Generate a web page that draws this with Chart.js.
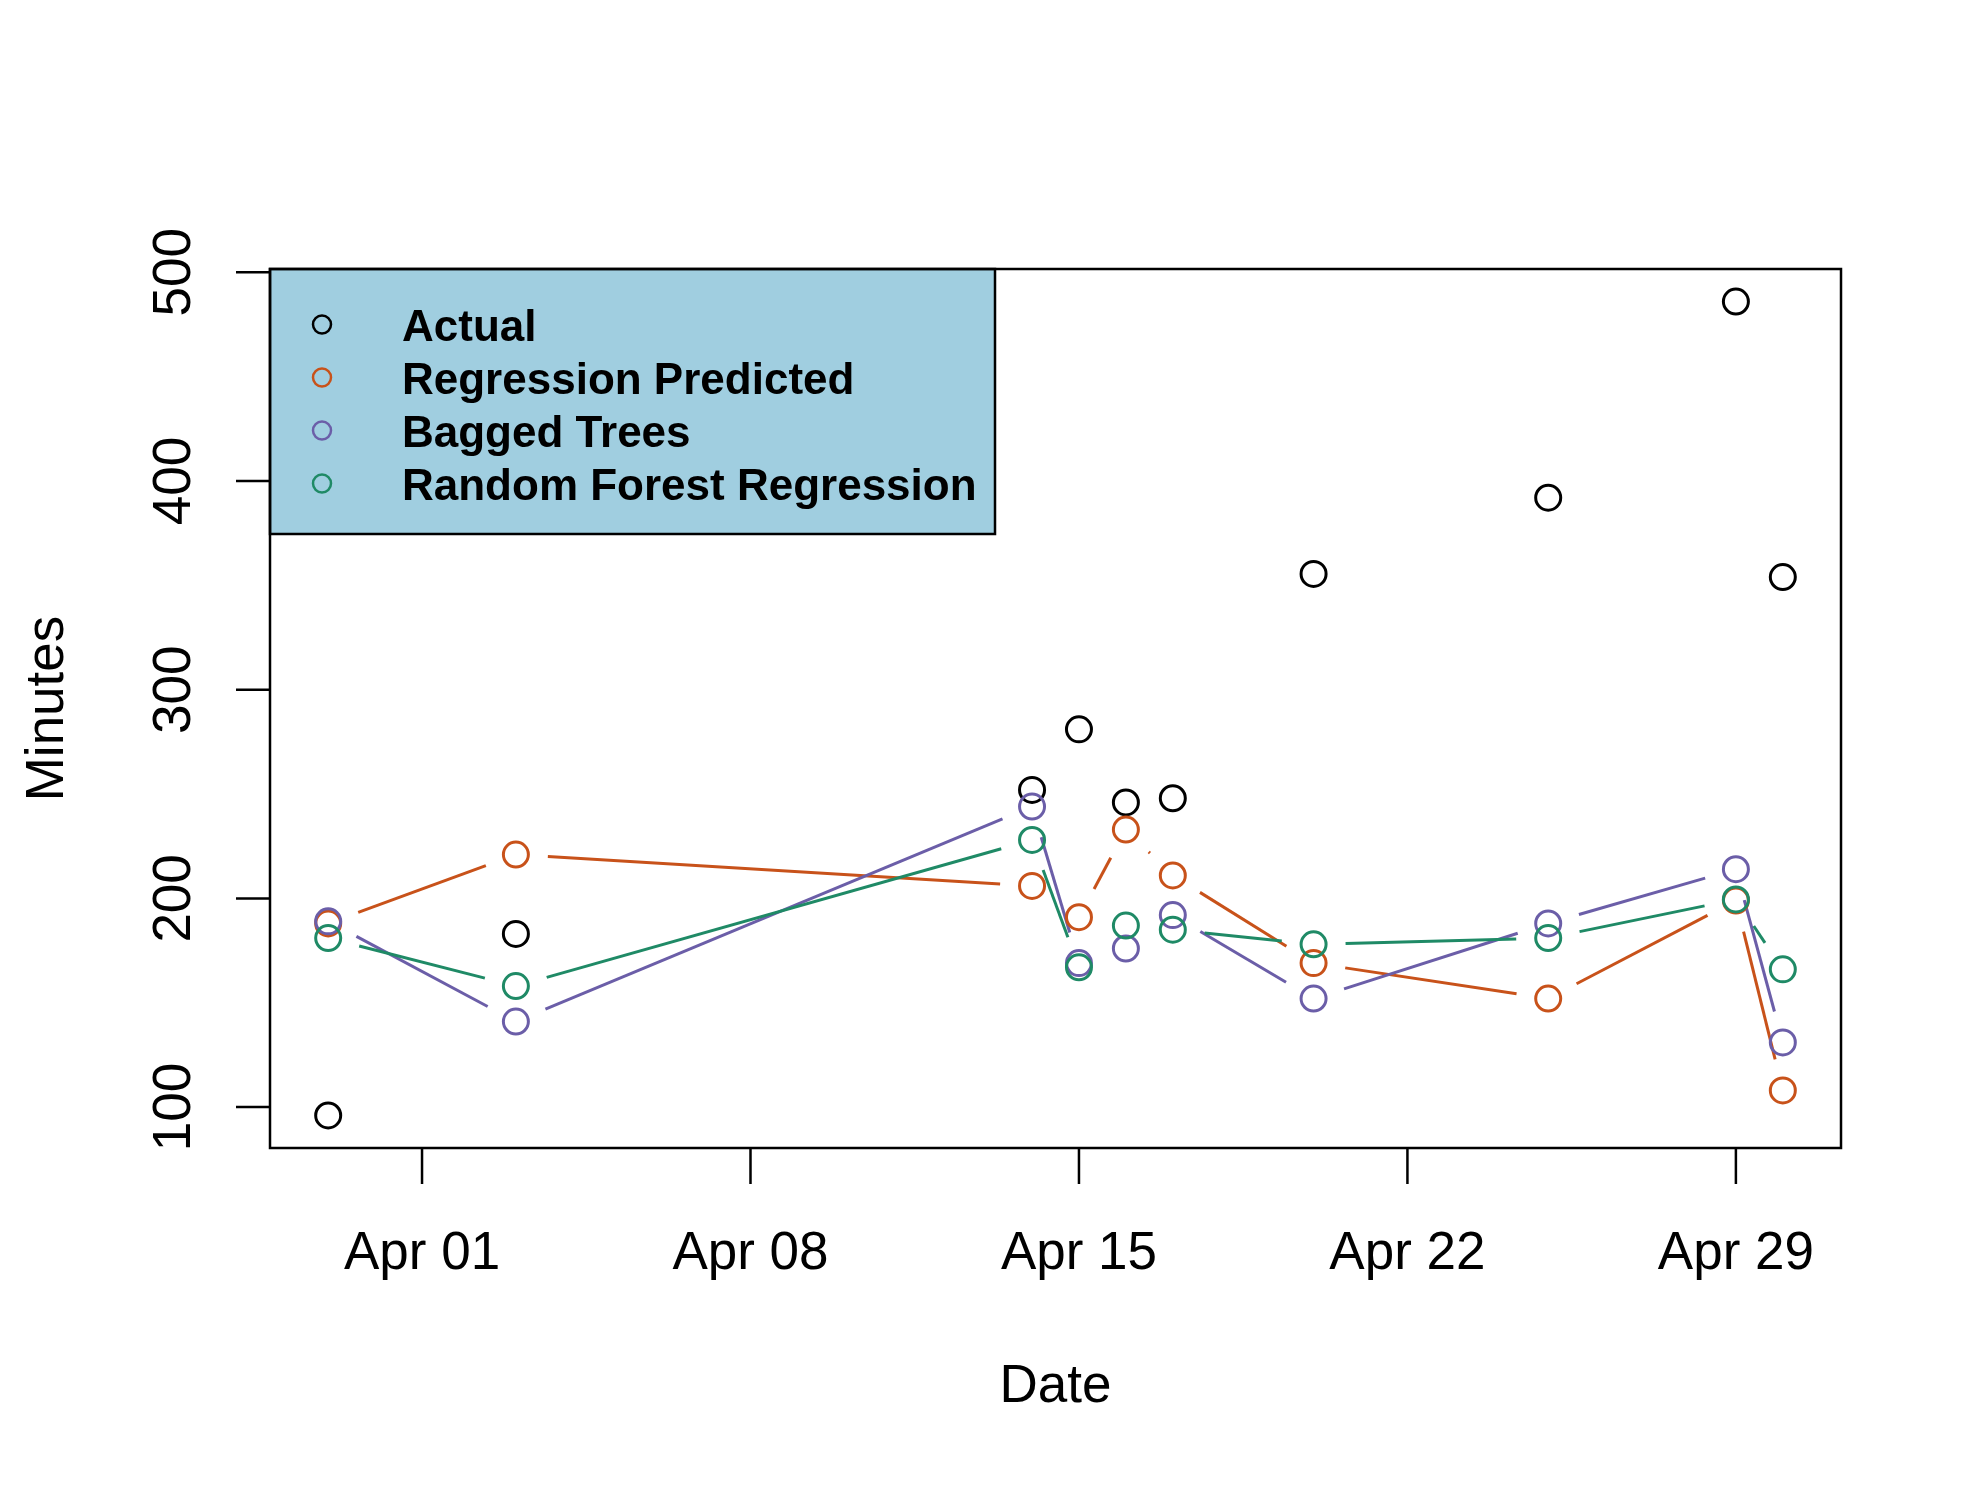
<!DOCTYPE html>
<html>
<head>
<meta charset="utf-8">
<script src="https://cdn.jsdelivr.net/npm/chart.js@4/dist/chart.umd.min.js"></script>
<style>
  html, body { margin: 0; padding: 0; background: #fff; }
  canvas { display: block; }
</style>
</head>
<body>
<canvas id="chart" width="1980" height="1485"></canvas>
<script>
// days counted from Apr 01 (Mar 30 = -2)
const dayNumbers = [-2, 2, 13, 14, 15, 16, 19, 24, 28, 29];
const dateLabels = ['Mar 30', 'Apr 03', 'Apr 14', 'Apr 15', 'Apr 16', 'Apr 17', 'Apr 20', 'Apr 25', 'Apr 29', 'Apr 30'];

const actual     = [96, 183, 252, 281, 246, 248, 355.5, 392, 486, 354];
const regression = [188, 221, 206, 191, 233, 211, 169, 152, 199, 108];
const bagged     = [189, 141, 244, 169, 176, 192, 152, 188, 214, 131];
const forest     = [181, 158, 228, 167, 187, 185, 178, 181, 199.5, 166];

const xTickDays   = [0, 7, 14, 21, 28];
const xTickLabels = ['Apr 01', 'Apr 08', 'Apr 15', 'Apr 22', 'Apr 29'];
const yTicks      = [100, 200, 300, 400, 500];

const seriesNames = ['Actual', 'Regression Predicted', 'Bagged Trees', 'Random Forest Regression'];
const seriesColors = ['#000000', '#c8521a', '#6b5ea8', '#1f8a66'];

const FONT = '"Liberation Sans", Arial, Helvetica, sans-serif';

function points(values) {
  return values.map((v, i) => ({ x: dayNumbers[i], y: v }));
}

// R-style type="b": segments with a gap around each point
const gapLines = {
  id: 'gapLines',
  beforeDatasetsDraw(chart) {
    const ctx = chart.ctx;
    const gap = 32;
    chart.data.datasets.forEach((ds, di) => {
      if (!ds.gapLine) return;
      const pts = chart.getDatasetMeta(di).data;
      ctx.save();
      ctx.strokeStyle = ds.borderColor;
      ctx.lineWidth = 3;
      ctx.lineCap = 'butt';
      for (let i = 0; i < pts.length - 1; i++) {
        const a = pts[i], b = pts[i + 1];
        const dx = b.x - a.x, dy = b.y - a.y;
        const len = Math.hypot(dx, dy);
        if (len <= 2 * gap) continue;
        const ux = dx / len, uy = dy / len;
        ctx.beginPath();
        ctx.moveTo(a.x + ux * gap, a.y + uy * gap);
        ctx.lineTo(b.x - ux * gap, b.y - uy * gap);
        ctx.stroke();
      }
      ctx.restore();
    });
  }
};

// box, axes, labels and legend in base-graphics style
const rAxes = {
  id: 'rAxes',
  afterDatasetsDraw(chart) {
    const ctx = chart.ctx;
    const area = chart.chartArea;
    const xs = chart.scales.x, ys = chart.scales.y;
    ctx.save();
    ctx.strokeStyle = '#000';
    ctx.fillStyle = '#000';
    ctx.lineWidth = 2.5;

    // y axis ticks + labels
    ctx.font = `53px ${FONT}`;
    ctx.textAlign = 'center';
    ctx.textBaseline = 'alphabetic';
    yTicks.forEach(v => {
      const y = ys.getPixelForValue(v);
      ctx.beginPath();
      ctx.moveTo(area.left, y);
      ctx.lineTo(area.left - 34, y);
      ctx.stroke();
      ctx.save();
      ctx.translate(190, y);
      ctx.rotate(-Math.PI / 2);
      ctx.fillText(String(v), 0, 0);
      ctx.restore();
    });

    // x axis ticks + labels
    xTickDays.forEach((d, i) => {
      const x = xs.getPixelForValue(d);
      ctx.beginPath();
      ctx.moveTo(x, area.bottom);
      ctx.lineTo(x, area.bottom + 36);
      ctx.stroke();
      ctx.fillText(xTickLabels[i], x, 1269);
    });

    // axis titles
    ctx.fillText('Date', (area.left + area.right) / 2, 1402);
    ctx.save();
    ctx.translate(63, (area.top + area.bottom) / 2);
    ctx.rotate(-Math.PI / 2);
    ctx.fillText('Minutes', 0, 0);
    ctx.restore();

    // legend
    const lx = area.left, ly = area.top, lw = 725, lh = 265;
    ctx.fillStyle = '#a0cee0';
    ctx.fillRect(lx, ly, lw, lh);
    ctx.strokeRect(lx, ly, lw, lh);
    ctx.font = `bold 44px ${FONT}`;
    ctx.textAlign = 'left';
    seriesNames.forEach((name, i) => {
      const cy = 324.5 + i * 53;
      ctx.beginPath();
      ctx.strokeStyle = seriesColors[i];
      ctx.lineWidth = 2.5;
      ctx.arc(322, cy, 9, 0, Math.PI * 2);
      ctx.stroke();
      ctx.fillStyle = '#000';
      ctx.fillText(name, 402, cy + 16);
    });

    // plot box
    ctx.strokeStyle = '#000';
    ctx.lineWidth = 2.5;
    ctx.strokeRect(area.left, area.top, area.right - area.left, area.bottom - area.top);
    ctx.restore();
  }
};

const allSeries = [actual, regression, bagged, forest];

new Chart(document.getElementById('chart'), {
  type: 'scatter',
  data: {
    datasets: allSeries.map((vals, i) => ({
      label: seriesNames[i],
      data: points(vals),
      borderColor: seriesColors[i],
      backgroundColor: 'rgba(0,0,0,0)',
      pointRadius: 12.5,
      pointBorderWidth: 3,
      pointHoverRadius: 12.5,
      showLine: false,
      gapLine: i > 0,
      order: 4 - i,
    })),
  },
  options: {
    responsive: false,
    animation: false,
    devicePixelRatio: 1,
    events: [],
    layout: { padding: { left: 270, right: 139, top: 269, bottom: 337 } },
    plugins: { legend: { display: false }, tooltip: { enabled: false } },
    scales: {
      x: { type: 'linear', min: -3.24, max: 30.24, display: false },
      y: { type: 'linear', min: 80.4, max: 501.6, display: false },
    },
  },
  plugins: [gapLines, rAxes],
});
</script>
</body>
</html>
